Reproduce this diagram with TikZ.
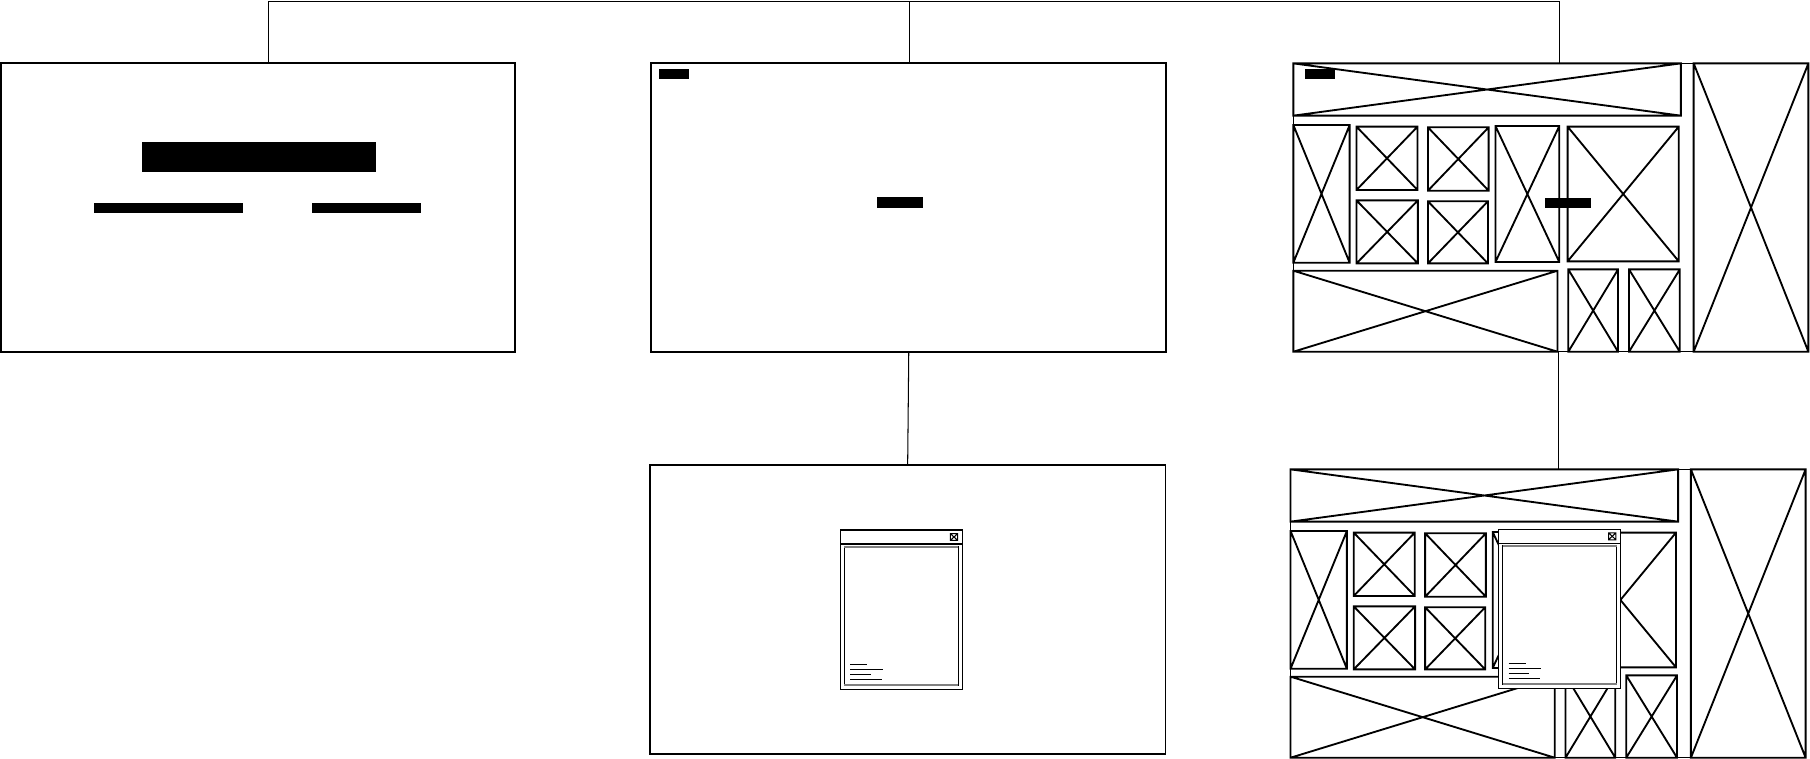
\documentclass[tikz,border=0pt]{standalone}
\tikzset{
  frame/.style={draw, line width=1.6pt, inner sep=0pt, outer sep=0pt},
  screenframe/.style={draw, line width=0.6pt, inner sep=0pt, outer sep=0pt},
  conn/.style={line width=0.9pt},
  ph/.style={line width=1.6pt},
  bar/.style={fill=black},
  popouter/.style={draw, fill=white, line width=1.3pt},
  popline/.style={line width=0.8pt}
}
\newcommand\phbox[4]{\draw[ph] (#1,#2) rectangle (#3,#4) (#1,#2) -- (#3,#4) (#1,#4) -- (#3,#2);}
\newcommand\screenlayout{%
  \phbox{1120.4}{54.9}{1456.1}{100.2}
  \phbox{1467.2}{54.9}{1566.6}{304.7}
  \phbox{1120.4}{108.3}{1169.2}{227.6}
  \phbox{1175.1}{109.7}{1228}{164.6}
  \phbox{1237}{110.3}{1289.6}{165.2}
  \phbox{1175.1}{173.6}{1228.3}{228.2}
  \phbox{1237}{174.4}{1289}{228.2}
  \phbox{1295.5}{109.2}{1350.8}{227}
  \phbox{1358}{109.7}{1454.3}{226.4}
  \phbox{1120.4}{234.5}{1349.3}{304.7}
  \phbox{1358.6}{233.4}{1401.7}{304.7}
  \phbox{1411.2}{233.4}{1455.2}{304.7}
}
\newcommand\popupwin[2]{%
  \begin{scope}[shift={(#1,#2)}]
    \draw[popouter] (0,0) rectangle (105.7,138);
    \draw[line width=1.1pt] (0,12) -- (105.7,12);
    \draw[line width=0.9pt] (95.3,3) rectangle (101.6,9) (95.3,3) -- (101.6,9) (95.3,9) -- (101.6,3);
    \draw[line width=1pt] (3.4,14.4) rectangle (102.3,134.5);
    \draw[line width=1.6pt, gray] (3.4,14.6) -- (102.3,14.6) (3.4,134.3) -- (102.3,134.3);
    \draw[popline] (8.7,116.3) -- ++(14.8,0);
    \draw[popline] (8.7,120.7) -- ++(27.8,0);
    \draw[popline] (8.7,125) -- ++(17.6,0);
    \draw[popline] (8.7,129.3) -- ++(27.2,0);
  \end{scope}
}
\begin{document}
\begin{tikzpicture}[x=1pt,y=-1pt]
\useasboundingbox (0,0) rectangle (1568,657.5);
% main frames
\node[frame, minimum width=445.5pt, minimum height=250.1pt] (L) at (223.65,179.95) {};
\node[frame, minimum width=445.9pt, minimum height=250.4pt] (M) at (787.25,180.1) {};
\node[frame, minimum width=446.6pt, minimum height=250.5pt] (MB) at (786.3,528.05) {};
\node[screenframe, minimum width=446.2pt, minimum height=249.8pt] (RT) at (1343.5,179.8) {};
\node[screenframe, minimum width=446.2pt, minimum height=249.8pt] (RB) at (1341.1,531.5) {};
% left screen bars
\fill[bar] (123.3,123) rectangle (325.5,149);
\fill[bar] (81.5,175.6) rectangle (210.7,184.3);
\fill[bar] (270.3,175.6) rectangle (364.9,184.3);
% middle screen
\fill[bar] (570.8,59.8) rectangle (596.8,68.4);
\fill[bar] (759.9,171) rectangle (799.8,180.2);
% right top screen
\screenlayout
\fill[bar] (1130.5,59.8) rectangle (1156.1,68.2);
\fill[bar] (1338.6,171.5) rectangle (1378.2,179.9);
% right bottom screen
\begin{scope}[shift={(-2.4,351.7)}]
  \screenlayout
\end{scope}
% popups
\popupwin{728}{459.2}
\popupwin{1298.2}{458.6}
% connectors
\coordinate (bL) at (233,1);
\coordinate (bM) at (788,1);
\coordinate (bR) at (1351,1);
\coordinate (vR) at (1350.5,0);
\draw[conn] (L.north -| bL) -- (bL) -- (bR) -- (RT.north -| bR);
\draw[conn] (bM) -- (M.north -| bM);
\draw[conn] (M.south) -- (MB.north);
\draw[conn] (RT.south -| vR) -- (RB.north -| vR);
\end{tikzpicture}
\end{document}
